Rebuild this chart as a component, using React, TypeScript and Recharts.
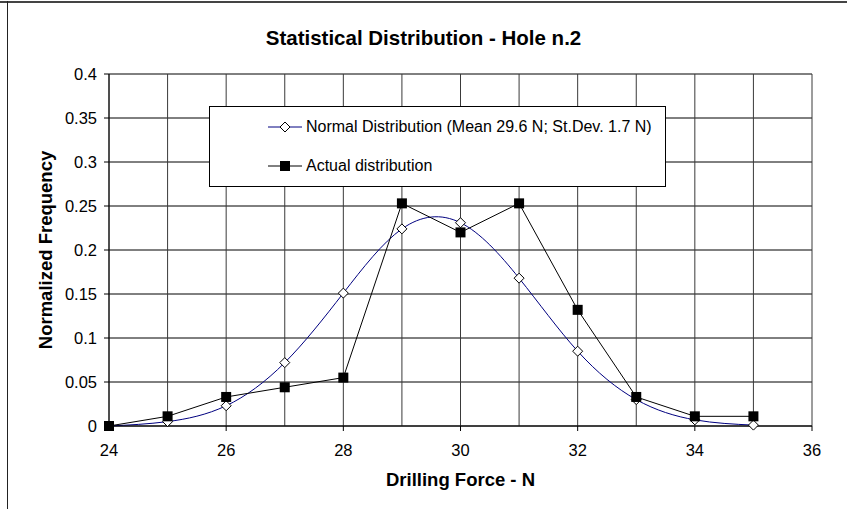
import React from "react";
import { LineChart, Line, XAxis, YAxis, CartesianGrid } from "recharts";

// Drilling force classes (N)
const forceValues = [24, 25, 26, 27, 28, 29, 30, 31, 32, 33, 34, 35];
// fitted normal curve, mean 29.6 N, st.dev 1.7 N
const normalFreq = [0, 0.005, 0.023, 0.072, 0.151, 0.224, 0.231, 0.168, 0.085, 0.03, 0.007, 0.001];
// measured frequencies
const actualFreq = [0, 0.011, 0.033, 0.044, 0.055, 0.253, 0.22, 0.253, 0.132, 0.033, 0.011, 0.011];

const xTicks = [24, 26, 28, 30, 32, 34, 36];
const xGrid = [24, 25, 26, 27, 28, 29, 30, 31, 32, 33, 34, 35, 36];
const yTicks = [0, 0.05, 0.1, 0.15, 0.2, 0.25, 0.3, 0.35, 0.4];

const data = forceValues.map((x, i) => ({ x, normal: normalFreq[i], actual: actualFreq[i] }));

const FONT = '"Liberation Sans", Arial, sans-serif';

const Diamond = (props: any) => {
  const { cx, cy, index } = props;
  if (cx == null || cy == null) return <g key={index} />;
  return (
    <path
      key={index}
      d={`M${cx},${cy - 5}L${cx + 5},${cy}L${cx},${cy + 5}L${cx - 5},${cy}Z`}
      fill="#fff"
      stroke="#000"
      strokeWidth={1}
    />
  );
};

const Square = (props: any) => {
  const { cx, cy, index } = props;
  if (cx == null || cy == null) return <g key={index} />;
  return <rect key={index} x={cx - 5} y={cy - 5} width={10} height={10} fill="#000" />;
};

const LegendBox = () => (
  <div
    style={{
      position: "absolute",
      left: 209,
      top: 106,
      width: 455,
      height: 79,
      border: "1px solid #000",
      background: "#fff",
      fontFamily: FONT,
      fontSize: 16,
      color: "#000",
    }}
  >
    <div style={{ position: "absolute", left: 58, top: 11, display: "flex", alignItems: "center" }}>
      <svg width={34} height={12}>
        <line x1={0} y1={6} x2={34} y2={6} stroke="#000080" />
        <path d="M17,1L22,6L17,11L12,6Z" fill="#fff" stroke="#000" />
      </svg>
      <span style={{ marginLeft: 4 }}>Normal Distribution (Mean 29.6 N; St.Dev. 1.7 N)</span>
    </div>
    <div style={{ position: "absolute", left: 58, top: 50, display: "flex", alignItems: "center" }}>
      <svg width={34} height={12}>
        <line x1={0} y1={6} x2={34} y2={6} stroke="#000" />
        <rect x={12} y={1} width={10} height={10} fill="#000" />
      </svg>
      <span style={{ marginLeft: 4 }}>Actual distribution</span>
    </div>
  </div>
);

export default function App() {
  return (
    <div style={{ position: "absolute", left: 0, top: 0, width: 847, height: 509, background: "#fff", fontFamily: FONT }}>
      {/* outer frame */}
      <div style={{ position: "absolute", left: 0, top: 1, width: 847, borderTop: "2px solid #444" }} />
      <div style={{ position: "absolute", left: 7, top: 1, height: 508, borderLeft: "1px solid #222" }} />

      <div style={{ position: "absolute", left: 0, width: 847, top: 26, textAlign: "center", fontWeight: "bold", fontSize: 20.5 }}>
        Statistical Distribution - Hole n.2
      </div>

      <LineChart width={847} height={509} data={data} margin={{ top: 74, right: 35, bottom: 53, left: 49 }}>
        <CartesianGrid stroke="#000" vertical={false} horizontalValues={yTicks} />
        <CartesianGrid stroke="#3a3a3a" horizontal={false} verticalValues={xGrid} />
        <XAxis
          type="number"
          dataKey="x"
          domain={[24, 36]}
          ticks={xTicks}
          height={30}
          stroke="#000"
          tickSize={5}
          tickMargin={13}
          tick={{ fill: "#000", fontSize: 16.5, fontFamily: FONT }}
        />
        <YAxis
          type="number"
          domain={[0, 0.4]}
          ticks={yTicks}
          width={60}
          stroke="#000"
          tickSize={5}
          tickMargin={7}
          tick={{ fill: "#000", fontSize: 16.5, fontFamily: FONT }}
        />
        <Line
          type="natural"
          dataKey="normal"
          stroke="#000080"
          strokeWidth={1}
          dot={<Diamond />}
          activeDot={false}
          isAnimationActive={false}
        />
        <Line
          type="linear"
          dataKey="actual"
          stroke="#000"
          strokeWidth={1}
          dot={<Square />}
          activeDot={false}
          isAnimationActive={false}
        />
      </LineChart>

      <LegendBox />

      <div style={{ position: "absolute", left: 0, width: 921, top: 469, textAlign: "center", fontWeight: "bold", fontSize: 18.5 }}>
        Drilling Force - N
      </div>
      <div
        style={{
          position: "absolute",
          left: 46,
          top: 250,
          transform: "translate(-50%, -50%) rotate(-90deg)",
          whiteSpace: "nowrap",
          fontWeight: "bold",
          fontSize: 18.5,
        }}
      >
        Normalized Frequency
      </div>
    </div>
  );
}
